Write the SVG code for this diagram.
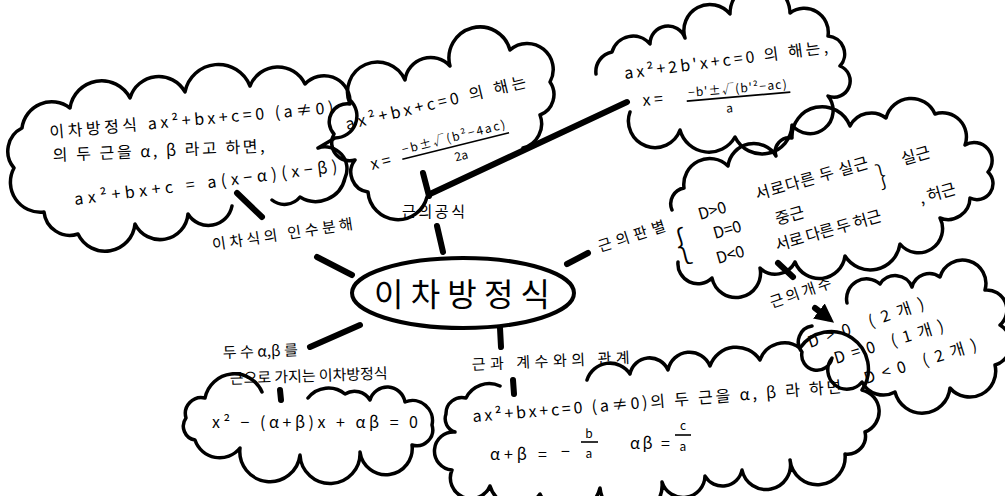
<svg xmlns="http://www.w3.org/2000/svg" width="1005" height="496" viewBox="0 0 1005 496">
  <defs>
    <style>
      .cloud { fill: none; stroke: #000; stroke-width: 3.5; stroke-linecap: round; stroke-linejoin: round; }
      .conn { fill: none; stroke: #000; stroke-width: 6; stroke-linecap: round; }
      .bar { stroke: #000; stroke-width: 1.6; }
      text { font-family: "Noto Sans CJK KR", "Noto Sans", sans-serif; fill: #000; }
      .t { font-size: 16px; }
      .s { font-size: 12px; }
      .lbl { font-size: 15px; }
    </style>
    <marker id="head" viewBox="0 0 10 10" refX="6" refY="5" markerWidth="3.2" markerHeight="3.2" orient="auto">
      <path d="M0,0 L10,5 L0,10 Z" fill="#000"/>
    </marker>
  </defs>
  <rect width="1005" height="496" fill="#fff"/>

  <!-- connectors -->
  <g id="connectors">
    <line class="conn" x1="317" y1="257" x2="352" y2="275"/>
    <line class="conn" x1="237" y1="193" x2="262" y2="217"/>
    <line class="conn" x1="437" y1="226" x2="443" y2="252"/>
    <line class="conn" x1="423" y1="173" x2="429" y2="196"/>
    <line class="conn" x1="430" y1="194" x2="627" y2="102" stroke-width="5"/>
    <line class="conn" x1="567" y1="264" x2="588" y2="253"/>
    <line class="conn" x1="778" y1="263" x2="793" y2="277"/>
    <line class="conn" x1="815" y1="308" x2="828" y2="318" marker-end="url(#head)"/>
    <line class="conn" x1="500" y1="328" x2="501" y2="347"/>
    <line class="conn" x1="513" y1="380" x2="514" y2="394"/>
    <line class="conn" x1="310" y1="347" x2="360" y2="325"/>
    <line class="conn" x1="280" y1="390" x2="281" y2="400" stroke-width="3.5"/>
  </g>

  <!-- central topic -->
  <g id="center">
    <ellipse cx="463" cy="293" rx="111" ry="35" fill="none" stroke="#000" stroke-width="4"/>
    <text x="374" y="306" font-size="32" textLength="176">이차방정식</text>
  </g>

  <!-- factorisation -->
  <g id="factor">
    <path class="cloud" d="M232,206 A24,24 0 0 1 188,214 A28,28 0 0 1 135,224 A30,30 0 0 1 78,234 A26,26 0 0 1 44,212 A30,30 0 0 1 14,168 A26,26 0 0 1 22,128 A30,30 0 0 1 70,108 A32,32 0 0 1 130,98 A30,30 0 0 1 185,92 A34,34 0 0 1 250,86 A30,30 0 0 1 305,84 A26,26 0 0 1 350,100 A22,22 0 0 1 335,138 L318,148 A22,22 0 0 1 345,178 A30,30 0 0 1 300,197 A20,20 0 0 1 272,200"/>
    <text class="t" x="0" y="0" textLength="285" transform="matrix(0.9962 -0.0872 0.0872 0.9962 50 138)">이차방정식 ax²+bx+c=0 (a≠0)</text>
    <text class="t" x="0" y="0" textLength="212" transform="matrix(0.9990 -0.0436 0.0436 0.9990 53 161)">의 두 근을 α, β 라고 하면,</text>
    <text class="t" x="0" y="0" textLength="265" transform="matrix(0.9921 -0.1253 0.1253 0.9921 75 205)">ax²+bx+c = a(x−α)(x−β)</text>
  </g>
  <g id="factor-label">
    <text class="lbl" x="0" y="0" textLength="142" transform="matrix(0.9890 -0.1478 0.1478 0.9890 213 250)">이차식의 인수분해</text>
  </g>

  <!-- quadratic formula -->
  <g id="formula">
    <path class="cloud" d="M427,197 A30,30 0 0 1 368,192 A20,20 0 0 1 355,160 A18,18 0 0 1 334,134 A18,18 0 0 1 350,104 A30,30 0 0 1 405,80 A26,26 0 0 1 450,66 A30,30 0 0 1 510,50 A26,26 0 0 1 550,82 A22,22 0 0 1 540,115 A25,25 0 0 1 523,148"/>
    <text class="t" x="0" y="0" textLength="185" transform="matrix(0.9728 -0.2318 0.2318 0.9728 347 130)">ax²+bx+c=0 의 해는</text>
    <g transform="matrix(0.9703 -0.2419 0.2419 0.9703 372 170)">
      <text class="t" x="0" y="0">x =</text>
      <text class="s" x="34" y="-8" textLength="106">−b±√(b²−4ac)</text>
      <line class="bar" x1="32" y1="-3" x2="142" y2="-3"/>
      <text class="s" x="90" y="12" text-anchor="middle">2a</text>
    </g>
  </g>
  <g id="formula-label">
    <text class="lbl" x="402" y="217" textLength="63">근의공식</text>
  </g>

  <!-- reduced formula -->
  <g id="half-formula">
    <path class="cloud" d="M596,74 A20,20 0 0 1 612,52 A22,22 0 0 1 650,44 A18,18 0 0 1 685,38 A26,26 0 0 1 730,14 A30,30 0 0 1 790,13 A24,24 0 0 1 828,36 A18,18 0 0 1 840,66 A16,16 0 0 1 828,96 A22,22 0 0 1 792,125 A30,30 0 0 1 735,137 A30,30 0 0 1 680,130 A26,26 0 0 1 630,112"/>
    <text class="t" x="0" y="0" textLength="205" transform="matrix(0.9917 -0.1288 0.1288 0.9917 625 79)">ax²+2b'x+c=0 의 해는,</text>
    <g transform="matrix(0.9962 -0.0872 0.0872 0.9962 643 106)">
      <text class="t" x="0" y="0">x =</text>
      <text class="s" x="46" y="-5" textLength="99">−b'±√(b'²−ac)</text>
      <line class="bar" x1="44" y1="-1" x2="148" y2="-1"/>
      <text class="s" x="86" y="14" text-anchor="middle">a</text>
    </g>
  </g>

  <!-- discriminant -->
  <g id="discriminant">
    <path class="cloud" d="M672,210 A16,16 0 0 1 684,188 A26,26 0 0 1 728,166 A26,26 0 0 1 776,156 A14,14 0 0 1 792,138 A30,30 0 0 1 850,126 A24,24 0 0 1 886,118 A26,26 0 0 1 935,114 A24,24 0 0 1 965,145 A18,18 0 0 1 988,172 A16,16 0 0 1 970,198 A22,22 0 0 1 940,218 A24,24 0 0 1 900,244 A30,30 0 0 1 845,256 A26,26 0 0 1 795,262 A22,22 0 0 1 760,268 A22,22 0 0 1 712,278 A20,20 0 0 1 678,262"/>
    <text x="0" y="0" font-size="40" font-weight="300" transform="matrix(0.9613 -0.2756 0.2756 0.9613 680 260)">{</text>
    <text class="t" x="0" y="0" transform="matrix(0.9613 -0.2756 0.2756 0.9613 700 220)">D&gt;0</text>
    <text class="t" x="0" y="0" textLength="117" transform="matrix(0.9613 -0.2756 0.2756 0.9613 757 200)">서로다른 두 실근</text>
    <text x="0" y="0" font-size="28" font-weight="300" transform="matrix(0.9613 -0.2756 0.2756 0.9613 880 186)">}</text>
    <text class="t" x="0" y="0" transform="matrix(0.9613 -0.2756 0.2756 0.9613 903 165)">실근</text>
    <text class="t" x="0" y="0" transform="matrix(0.9613 -0.2756 0.2756 0.9613 715 239)">D=0</text>
    <text class="t" x="0" y="0" transform="matrix(0.9613 -0.2756 0.2756 0.9613 777 225)">중근</text>
    <text class="t" x="0" y="0" transform="matrix(0.9613 -0.2756 0.2756 0.9613 718 264)">D&lt;0</text>
    <text class="t" x="0" y="0" textLength="110" transform="matrix(0.9613 -0.2756 0.2756 0.9613 777 251)">서로 다른 두 허근</text>
    <text class="t" x="0" y="0" transform="matrix(0.9613 -0.2756 0.2756 0.9613 921 204)">, 허근</text>
  </g>
  <g id="discriminant-label">
    <text class="lbl" x="0" y="0" textLength="70" transform="matrix(0.9511 -0.3090 0.3090 0.9511 600 252)">근의판별</text>
  </g>

  <!-- number of roots -->
  <g id="root-count-label">
    <text class="lbl" x="0" y="0" textLength="64" transform="matrix(0.9455 -0.3256 0.3256 0.9455 772 308)">근의개수</text>
  </g>
  <g id="root-count">
    <path class="cloud" d="M847,303 A20,20 0 0 1 880,284 A18,18 0 0 1 912,287 A18,18 0 0 1 940,277 A22,22 0 0 1 985,290 A20,20 0 0 1 1000,325 A22,22 0 0 1 995,365 A26,26 0 0 1 950,388 A28,28 0 0 1 895,392 A24,24 0 0 1 862,382 A14,14 0 0 1 832,358 A14,14 0 0 1 802,352 A16,16 0 0 1 812,326"/>
    <text class="t" x="0" y="0" textLength="122" transform="matrix(0.9455 -0.3256 0.3256 0.9455 810 348)">D&gt;0 (2개)</text>
    <text class="t" x="0" y="0" textLength="114" transform="matrix(0.9563 -0.2924 0.2924 0.9563 836 364)">D=0 (1개)</text>
    <text class="t" x="0" y="0" textLength="117" transform="matrix(0.9563 -0.2924 0.2924 0.9563 866 384)">D&lt;0 (2개)</text>
  </g>

  <!-- roots and coefficients -->
  <g id="vieta-label">
    <text class="lbl" x="0" y="0" textLength="158" transform="matrix(0.9990 -0.0454 0.0454 0.9990 472 370)">근과 계수와의 관계</text>
  </g>
  <g id="vieta">
    <path class="cloud" d="M587,380 A24,24 0 0 1 630,374 A20,20 0 0 1 668,370 A22,22 0 0 1 710,366 A28,28 0 0 1 760,360 A26,26 0 0 1 800,348 A30,30 0 0 1 862,390 A22,22 0 0 1 865,432 A18,18 0 0 1 845,454 A26,26 0 0 1 790,460 A22,22 0 0 1 742,470 A20,20 0 0 1 705,476 A22,22 0 0 1 662,482 A30,30 0 0 1 600,488 A32,32 0 0 1 540,494 A28,28 0 0 1 490,486 A20,20 0 0 1 452,470 A18,18 0 0 1 455,432 A14,14 0 0 1 446,414 A16,16 0 0 1 466,398 A26,26 0 0 1 500,386"/>
    <text class="t" x="0" y="0" textLength="370" transform="matrix(0.9968 -0.0802 0.0802 0.9968 473 422)">ax²+bx+c=0 (a≠0)의 두 근을 α, β 라 하면</text>
    <text class="t" x="490" y="460" textLength="57">α+β =</text>
    <text class="t" x="561" y="457">−</text>
    <text class="s" x="589" y="438" text-anchor="middle">b</text>
    <line class="bar" x1="581" y1="442" x2="598" y2="442"/>
    <text class="s" x="589" y="458" text-anchor="middle">a</text>
    <text class="t" x="630" y="449" textLength="40">αβ =</text>
    <text class="s" x="683" y="430" text-anchor="middle">c</text>
    <line class="bar" x1="675" y1="435" x2="691" y2="435"/>
    <text class="s" x="683" y="451" text-anchor="middle">a</text>
  </g>

  <!-- equation from given roots -->
  <g id="from-roots-label">
    <text class="lbl" x="0" y="0" textLength="75" transform="matrix(0.9994 -0.0349 0.0349 0.9994 223 358)">두 수 α,β 를</text>
    <text class="lbl" x="0" y="0" textLength="158" transform="matrix(0.9994 -0.0349 0.0349 0.9994 230 384)">근으로 가지는 이차방정식</text>
  </g>
  <g id="from-roots">
    <path class="cloud" d="M308,398 A26,26 0 0 1 345,394 A18,18 0 0 1 370,400 A18,18 0 0 1 405,402 A20,20 0 0 1 432,425 A16,16 0 0 1 412,445 A26,26 0 0 1 360,452 A28,28 0 0 1 300,455 A30,30 0 0 1 240,448 A26,26 0 0 1 195,440 A14,14 0 0 1 186,418 A16,16 0 0 1 205,398 A30,30 0 0 1 262,392"/>
    <text class="t" x="212" y="428" textLength="206">x² − (α+β)x + αβ = 0</text>
  </g>
</svg>
